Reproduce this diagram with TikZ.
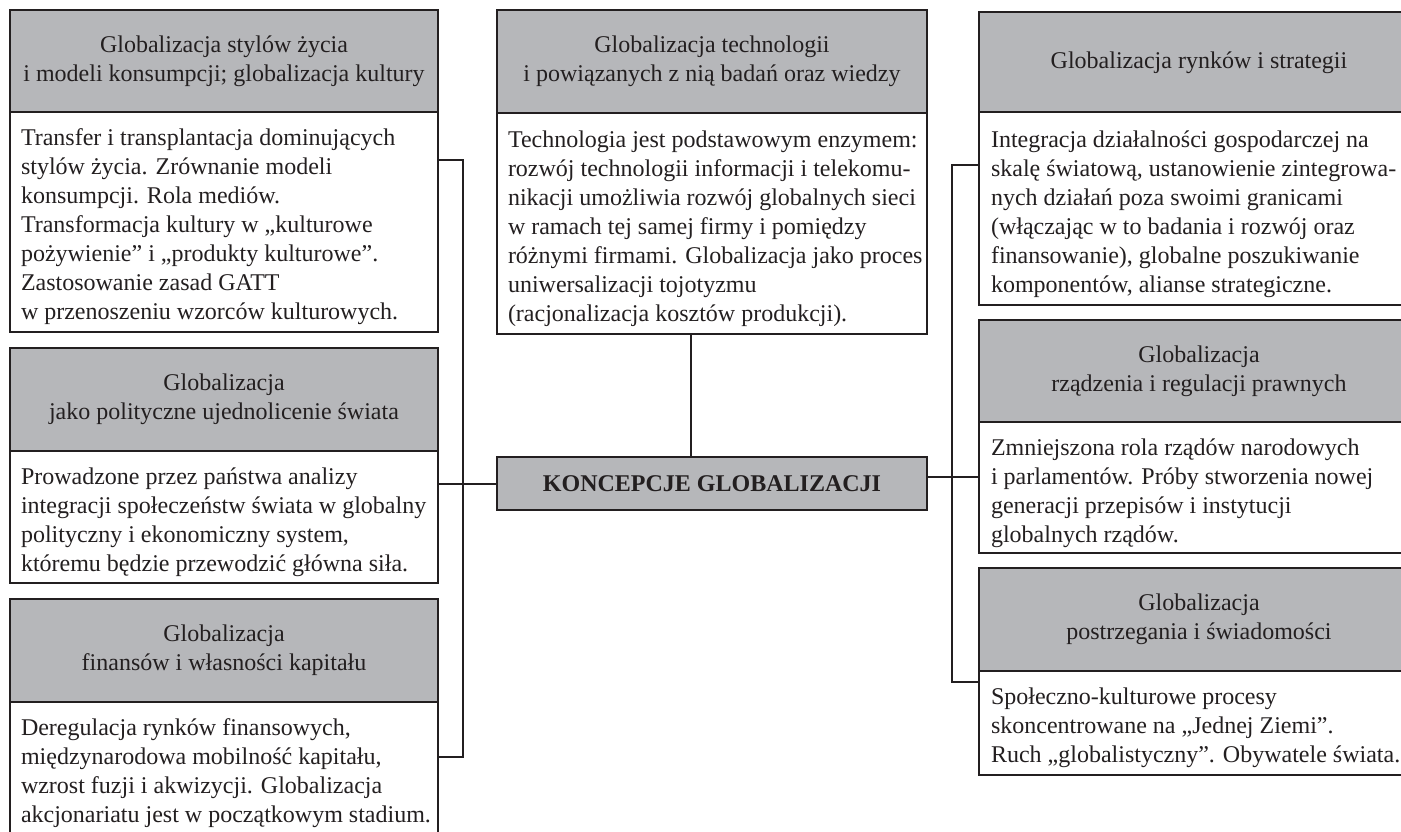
\documentclass[tikz,border=0pt]{standalone}
\usepackage{fontspec}
\setmainfont{Liberation Serif}
\definecolor{ink}{HTML}{231F20}
\definecolor{hdrgray}{HTML}{B6B7BA}
\begin{document}
\begin{tikzpicture}[x=1pt,y=-1pt,
  every node/.style={inner sep=0pt, outer sep=0pt, text=ink},
  hdr/.style={draw=ink, line width=2pt, fill=hdrgray, align=center,
    font=\fontsize{24}{29}\selectfont},
  bodybox/.style={draw=ink, line width=2pt, fill=white, anchor=north west},
  bodytxt/.style={anchor=north west, align=left, font=\fontsize{24}{29}\selectfont},
  titlebox/.style={draw=ink, line width=2pt, fill=hdrgray,
    font=\fontsize{24}{29}\selectfont\bfseries},
  conn/.style={draw=ink, line width=2pt}
]
\useasboundingbox (0,0) rectangle (1401,832);
\clip (0,0) rectangle (1401,832);

% ---------- left column ----------
\node[hdr, minimum width=428, minimum height=102] (L1h) at (224,61)
  {\strut Globalizacja stylów życia\\\strut i modeli konsumpcji; globalizacja kultury};
\node[bodybox, minimum width=428, minimum height=220] (L1b) at (10,112) {};
\node[bodytxt] (L1t) at (21,124.7) {\strut Transfer i transplantacja dominujących\\
stylów życia. Zrównanie modeli\\
konsumpcji. Rola mediów.\\
Transformacja kultury w „kulturowe\\
pożywienie” i „produkty kulturowe”.\\
Zastosowanie zasad GATT\\
w przenoszeniu wzorców kulturowych.};

\node[hdr, minimum width=428, minimum height=103] (L2h) at (224,399.5)
  {\strut Globalizacja\\\strut jako polityczne ujednolicenie świata};
\node[bodybox, minimum width=428, minimum height=132] (L2b) at (10,451) {};
\node[bodytxt] (L2t) at (21,463.7) {\strut Prowadzone przez państwa analizy\\
integracji społeczeństw świata w globalny\\
polityczny i ekonomiczny system,\\
któremu będzie przewodzić główna siła.};

\node[hdr, minimum width=428, minimum height=103] (L3h) at (224,650.5)
  {\strut Globalizacja\\\strut finansów i własności kapitału};
\node[bodybox, minimum width=428, minimum height=150] (L3b) at (10,702) {};
\node[bodytxt] (L3t) at (21,714.7) {\strut Deregulacja rynków finansowych,\\
międzynarodowa mobilność kapitału,\\
wzrost fuzji i akwizycji. Globalizacja\\
akcjonariatu jest w początkowym stadium.};

% ---------- middle ----------
\node[hdr, minimum width=430, minimum height=103] (Mh) at (712,61.5)
  {\strut Globalizacja technologii\\\strut i powiązanych z nią badań oraz wiedzy};
\node[bodybox, minimum width=430, minimum height=221] (Mb) at (497,113) {};
\node[bodytxt] (Mt) at (508,126.7) {\strut Technologia jest podstawowym enzymem:\\
rozwój technologii informacji i telekomu-\\
nikacji umożliwia rozwój globalnych sieci\\
w ramach tej samej firmy i pomiędzy\\
różnymi firmami. Globalizacja jako proces\\
uniwersalizacji tojotyzmu\\
(racjonalizacja kosztów produkcji).};

\node[titlebox, minimum width=430, minimum height=53] (C) at (712,483.5)
  {KONCEPCJE GLOBALIZACJI};

% ---------- right column ----------
\node[hdr, minimum width=440, minimum height=102] (R1h) at (1199,63)
  {\strut Globalizacja rynków i strategii};
\node[bodybox, minimum width=440, minimum height=193] (R1b) at (979,112) {};
\node[bodytxt] (R1t) at (991,126.7) {\strut Integracja działalności gospodarczej na\\
skalę światową, ustanowienie zintegrowa-\\
nych działań poza swoimi granicami\\
(włączając w to badania i rozwój oraz\\
finansowanie), globalne poszukiwanie\\
komponentów, alianse strategiczne.};

\node[hdr, minimum width=440, minimum height=102] (R2h) at (1199,371)
  {\strut Globalizacja\\\strut rządzenia i regulacji prawnych};
\node[bodybox, minimum width=440, minimum height=131] (R2b) at (979,422) {};
\node[bodytxt] (R2t) at (991,434.7) {\strut Zmniejszona rola rządów narodowych\\
i parlamentów. Próby stworzenia nowej\\
generacji przepisów i instytucji\\
globalnych rządów.};

\node[hdr, minimum width=440, minimum height=103] (R3h) at (1199,619.5)
  {\strut Globalizacja\\\strut postrzegania i świadomości};
\node[bodybox, minimum width=440, minimum height=104] (R3b) at (979,671) {};
\node[bodytxt] (R3t) at (991,683.7) {\strut Społeczno-kulturowe procesy\\
skoncentrowane na „Jednej Ziemi”.\\
Ruch „globalistyczny”. Obywatele świata.};

% ---------- connectors ----------
\coordinate (busL) at (463,0);
\coordinate (busR) at (952,0);
\draw[conn] ([yshift=-48pt]L1b.north east) -| (busL |- 0,757) -- ([yshift=-55pt]L3b.north east);
\draw[conn] (C.west) -- (C.west -| L2b.east);
\draw[conn] ([xshift=-21pt]C.north) -- ([xshift=-21pt]C.north |- Mb.south);
\draw[conn] ([yshift=7pt]C.east) -- ([yshift=7pt]C.east -| R2b.west);
\draw[conn] ([yshift=-53pt]R1b.north west) -| (busR |- 0,682) -- ([yshift=-11pt]R3b.north west);
\end{tikzpicture}
\end{document}
